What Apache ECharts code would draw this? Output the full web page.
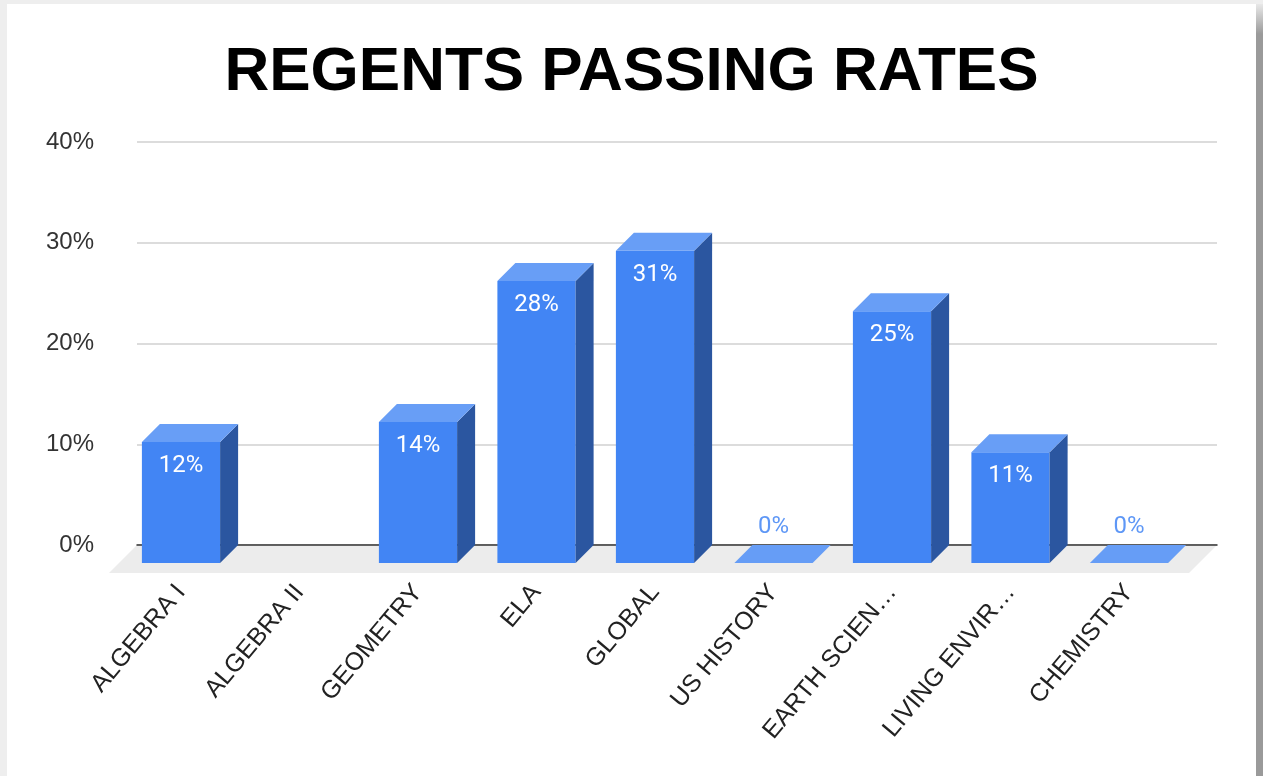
<!DOCTYPE html>
<html>
<head>
<meta charset="utf-8">
<title>Regents Passing Rates</title>
<script src="https://cdn.jsdelivr.net/npm/echarts@6/dist/echarts.min.js"></script>
<style>
  html, body { margin: 0; padding: 0; width: 1263px; height: 776px; overflow: hidden; background: #eeeeee; }
  #card { position: absolute; left: 7px; top: 4px; width: 1249px; height: 772px; background: #ffffff; }
  #edge { position: absolute; left: 1256px; top: 4px; width: 7px; height: 772px;
          background: linear-gradient(#e8e8e8 0px, #9a9a9a 30px, #9a9a9a 100%); }
  #chart { position: absolute; left: 0; top: 0; width: 1263px; height: 776px; }
</style>
</head>
<body>
<div id="card"></div>
<div id="edge"></div>
<div id="chart"></div>
<script>
// Exam subjects and their passing rates (percent); null = no result
const categories = ['ALGEBRA I', 'ALGEBRA II', 'GEOMETRY', 'ELA', 'GLOBAL',
                    'US HISTORY', 'EARTH SCIENCE', 'LIVING ENVIRONMENT', 'CHEMISTRY'];
const passRates = [12, null, 14, 28, 31, 0, 25, 11, 0];

// Value axis range and step
const yMin = 0;
const yMax = 40;
const yStep = 10;

// 3D look
const DEPTH = 18;        // bar depth offset (px)
const FLOOR_DEPTH = 28;  // floor depth offset (px)
const FRONT = '#4285f4';
const SIDE = '#2b56a0';
const TOP = '#689ef6';
const FLAT = '#669df6';

const chart = echarts.init(document.getElementById('chart'), null, { renderer: 'canvas' });

function renderFloor(params) {
  const cs = params.coordSys;
  const yb = cs.y + cs.height;
  return {
    type: 'polygon',
    shape: { points: [[cs.x, yb], [cs.x + cs.width, yb],
                      [cs.x + cs.width - FLOOR_DEPTH, yb + FLOOR_DEPTH], [cs.x - FLOOR_DEPTH, yb + FLOOR_DEPTH]] },
    style: { fill: '#ececec' }
  };
}

function renderBar(params, api) {
  const v = api.value(1);
  if (v == null || isNaN(v)) return;
  const c = api.coord([api.value(0), v]);
  const base = api.coord([api.value(0), 0]);
  const w = api.size([1, 0])[0] * 0.66;
  const x1 = c[0] - w / 2, x2 = c[0] + w / 2;
  const top = c[1], bot = base[1];
  const d = DEPTH;
  const children = [];
  if (v > 0) {
    children.push({ type: 'rect', shape: { x: x1, y: top, width: w, height: bot - top }, style: { fill: FRONT } });
    children.push({ type: 'polygon', shape: { points: [[x2, top], [x2 + d, top - d], [x2 + d, bot - d], [x2, bot]] },
                    style: { fill: SIDE } });
    children.push({ type: 'polygon', shape: { points: [[x1, top], [x1 + d, top - d], [x2 + d, top - d], [x2, top]] },
                    style: { fill: TOP } });
    children.push({ type: 'text', style: { text: v + '%', x: c[0], y: top + 24, fill: '#ffffff',
                    fontFamily: 'Roboto', fontSize: 24, align: 'center', verticalAlign: 'middle' } });
  } else {
    children.push({ type: 'polygon', shape: { points: [[x1, bot], [x1 + d, bot - d], [x2 + d, bot - d], [x2, bot]] },
                    style: { fill: FLAT } });
    children.push({ type: 'text', style: { text: v + '%', x: c[0], y: bot - d - 18, fill: '#5e97f6',
                    fontFamily: 'Roboto', fontSize: 24, align: 'center', verticalAlign: 'middle' } });
  }
  return { type: 'group', children: children };
}

const option = {
  animation: false,
  title: {
    text: 'REGENTS PASSING RATES',
    left: 'center',
    top: 37,
    textStyle: { fontFamily: 'Liberation Sans, Arial', fontWeight: 'bold', fontSize: 62, color: '#000000' }
  },
  grid: [
    // back wall: gridlines and value labels
    { left: 137, right: 46, top: 142, bottom: 231 },
    // front plane of the bars
    { left: 121.75, right: 74.75, top: 160, bottom: 213 }
  ],
  xAxis: [
    { gridIndex: 0, type: 'category', data: categories, z: 3,
      axisLine: { show: true, lineStyle: { color: '#333333', width: 1.5 } },
      axisTick: { show: false }, axisLabel: { show: false } },
    { gridIndex: 1, type: 'category', data: categories,
      axisLine: { show: false }, axisTick: { show: false },
      axisLabel: { interval: 0, rotate: 50, margin: 25, fontSize: 25, color: '#222222',
                   fontFamily: 'Liberation Sans, Arial', width: 199, overflow: 'truncate', ellipsis: '…' } }
  ],
  yAxis: [
    { gridIndex: 0, type: 'value', min: yMin, max: yMax, interval: yStep,
      axisLine: { show: false }, axisTick: { show: false },
      axisLabel: { formatter: '{value}%', margin: 43, fontSize: 24, color: '#333333',
                   fontFamily: 'Liberation Sans, Arial' },
      splitLine: { lineStyle: { color: '#d0d0d0', width: 1.5 } } },
    { gridIndex: 1, type: 'value', min: yMin, max: yMax, interval: yStep, show: false,
      splitLine: { show: false } }
  ],
  series: [
    { type: 'custom', name: 'floor', xAxisIndex: 0, yAxisIndex: 0, z: 1, silent: true,
      data: [[0, 0]], renderItem: renderFloor },
    { type: 'custom', name: 'Passing rate', xAxisIndex: 1, yAxisIndex: 1, z: 5,
      data: passRates.map((v, i) => [i, v]), renderItem: renderBar }
  ]
};

chart.setOption(option);
</script>
</body>
</html>
